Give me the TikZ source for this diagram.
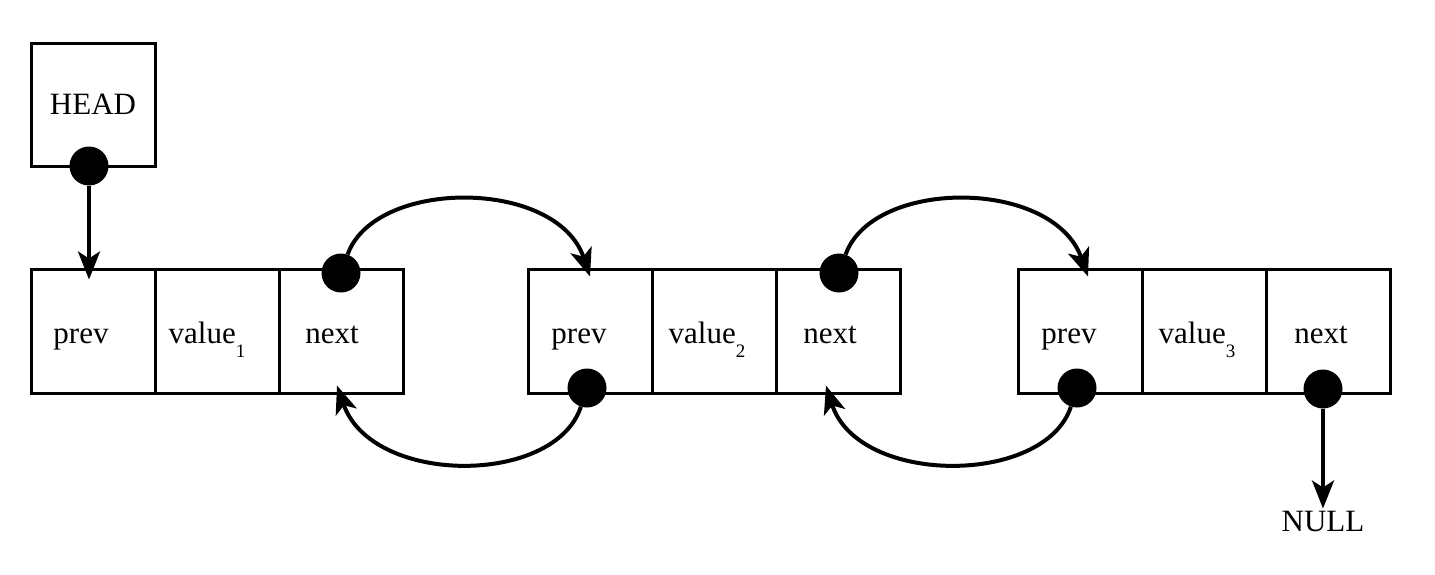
\documentclass[tikz,border=0pt]{standalone}
\usepackage{fontspec}
\setmainfont{Liberation Serif}
\usetikzlibrary{arrows.meta}
\newcommand\subdig[1]{\raisebox{-14pt}{\fontsize{19}{19}\selectfont #1}}
\tikzset{
  txt/.style={font=\fontsize{31}{36}\selectfont},
  cell/.style={draw, line width=3pt, minimum width=124pt, minimum height=124pt, inner sep=0pt},
  lbl/.style={txt, anchor=base, inner sep=0pt},
  dot/.style={circle, fill=black, draw=none, minimum size=39pt, inner sep=0pt},
  ptr/.style={line width=4pt, -{Stealth[length=28pt,width=22pt,inset=7pt]}},
}
\begin{document}
\begin{tikzpicture}[x=1pt,y=-1pt]
\useasboundingbox (0,0) rectangle (1435,574);
% HEAD box
\node[cell, txt, minimum height=123pt] (head) at (93,104.5) {HEAD};
% list node 1
\node[cell] (c11) at (93,331) {};
\node[cell] (c12) at (217,331) {};
\node[cell] (c13) at (341,331) {};
% list node 2
\node[cell] (c21) at (590,331) {};
\node[cell] (c22) at (714,331) {};
\node[cell] (c23) at (838,331) {};
% list node 3
\node[cell] (c31) at (1080,331) {};
\node[cell] (c32) at (1204,331) {};
\node[cell] (c33) at (1328,331) {};
% texts
\node[lbl] (t11) at (81,343) {prev};
\node[lbl] (t12) at (207,343) {value\subdig{1}};
\node[lbl] (t13) at (332,343) {next};
\node[lbl] (t21) at (579,343) {prev};
\node[lbl] (t22) at (707,343) {value\subdig{2}};
\node[lbl] (t23) at (830,343) {next};
\node[lbl] (t31) at (1069,343) {prev};
\node[lbl] (t32) at (1197,343) {value\subdig{3}};
\node[lbl] (t33) at (1321,343) {next};
\node[txt, anchor=base, inner sep=2pt] (null) at (1323,531) {NULL};
% pointer dots
\node[dot] (hd) at (89,166) {};
\node[dot] (n1) at (341,273) {};
\node[dot] (n2) at (839,273) {};
\node[dot] (p2) at (587,388) {};
\node[dot] (p3) at (1077,388) {};
\node[dot] (n3) at (1323,389) {};
% connectors
\draw[ptr] (hd) -- ([yshift=-12pt]hd |- c11.north);
\draw[ptr] (n1) .. controls (375,178) and (557,178) .. ([yshift=-9pt]c21.north);
\draw[ptr] (p2) .. controls (555,486) and (372,486) .. ([xshift=-4pt,yshift=9pt]c13.south);
\draw[ptr] (n2) .. controls (873,178) and (1053,178) .. ([xshift=8pt,yshift=-9pt]c31.north);
\draw[ptr] (p3) .. controls (1045,486) and (858,486) .. ([xshift=-12pt,yshift=9pt]c23.south);
\draw[ptr] (n3) -- (null);
\end{tikzpicture}
\end{document}
